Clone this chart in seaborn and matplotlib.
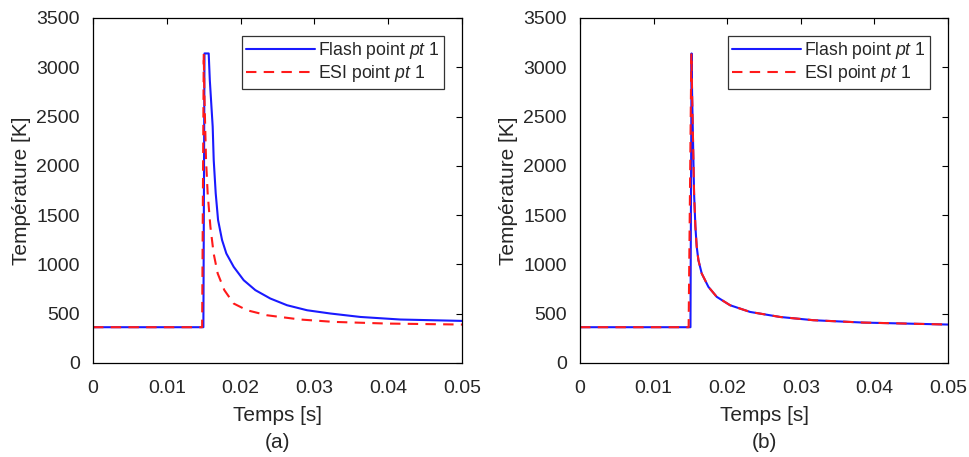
import numpy as np
import pandas as pd
import matplotlib
matplotlib.use('Agg')
import matplotlib.pyplot as plt
import seaborn as sns

# ================================================================
# values

# panel (a)
tFlashA = [0, 0.01495, 0.01510, 0.01567, 0.01582, 0.01621, 0.01635, 0.01662,
           0.01694, 0.01748, 0.01806, 0.01906, 0.02041, 0.02199, 0.02402, 0.02628,
           0.02900, 0.03215, 0.03622, 0.04164, 0.05]
TFlashA = [363, 363, 3140, 3140, 2870, 2398, 2059, 1721,
           1450, 1247, 1111, 975, 840, 739, 654, 586,
           535, 502, 467, 441, 427]

tEsiA = [0, 0.01478, 0.01500, 0.01508, 0.01531, 0.01553, 0.01590, 0.01634, 0.01689,
         0.01779, 0.01906, 0.02087, 0.02358, 0.02809, 0.03260, 0.03984, 0.05]
TEsiA = [363, 363, 3140, 2737, 2059, 1721, 1382, 1111, 908,
         739, 603, 535, 484, 441, 417, 400, 390]

# panel (b)
tFlashB = [0, 0.01500, 0.01515, 0.01522, 0.01531, 0.01540, 0.01549, 0.01567, 0.01585,
           0.01608, 0.01653, 0.01744, 0.01857, 0.02038, 0.02310, 0.02717, 0.03170,
           0.03849, 0.05]
TFlashB = [363, 363, 3140, 2737, 2398, 2059, 1721, 1382, 1179,
           1043, 908, 772, 671, 586, 518, 467, 434,
           410, 390]

tEsiB = [0, 0.01475, 0.01512, 0.01522, 0.01531, 0.01540, 0.01549, 0.01567, 0.01585,
         0.01608, 0.01653, 0.01744, 0.01857, 0.02038, 0.02310, 0.02717, 0.03170,
         0.03849, 0.05]
TEsiB = [363, 363, 3140, 2737, 2398, 2059, 1721, 1382, 1179,
         1043, 908, 772, 671, 586, 518, 467, 434,
         410, 390]

xTicks = [0, 0.01, 0.02, 0.03, 0.04, 0.05]
xTickLabels = ['0', '0.01', '0.02', '0.03', '0.04', '0.05']
yTicks = [0, 500, 1000, 1500, 2000, 2500, 3000, 3500]
panelLabels = ['(a)', '(b)']

# ================================================================

sns.set_style('white')
plt.rcParams['font.family'] = ['Liberation Sans', 'DejaVu Sans']
plt.rcParams['mathtext.fontset'] = 'custom'
plt.rcParams['mathtext.it'] = 'Liberation Sans:italic'
plt.rcParams['mathtext.rm'] = 'Liberation Sans'

textColor = '#262626'
esiDashes = (5, 3.5)

fig = plt.figure(figsize=(9.7, 4.57), dpi=100)
ax0 = fig.add_axes([0.0959, 0.2057, 0.3805, 0.755])
ax1 = fig.add_axes([0.598, 0.2057, 0.3794, 0.755])

panels = [(ax0, tFlashA, TFlashA, tEsiA, TEsiA),
          (ax1, tFlashB, TFlashB, tEsiB, TEsiB)]

for i, (ax, tF, TF, tE, TE) in enumerate(panels):
    flashDF = pd.DataFrame({'t': tF, 'T': TF})
    esiDF = pd.DataFrame({'t': tE, 'T': TE})
    sns.lineplot(data=flashDF, x='t', y='T', ax=ax, color=(0.1, 0.1, 1.0), lw=1.5,
                 estimator=None, sort=False, label='Flash point $\\mathit{pt}$ 1')
    sns.lineplot(data=esiDF, x='t', y='T', ax=ax, color=(1.0, 0.1, 0.1), lw=1.5,
                 estimator=None, sort=False, label='ESI point $\\mathit{pt}$ 1')
    ax.lines[1].set_dashes(esiDashes)

    ax.set_xlim(0, 0.05)
    ax.set_ylim(0, 3500)
    ax.set_xticks(xTicks)
    ax.set_xticklabels(xTickLabels)
    ax.set_yticks(yTicks)
    ax.tick_params(direction='in', length=4, width=0.8, top=True, right=True,
                   labelsize=14, colors='black', labelcolor=textColor)
    ax.tick_params(axis='x', pad=12.5)
    ax.tick_params(axis='y', pad=9.5)
    for sp in ax.spines.values():
        sp.set_visible(True)
        sp.set_color('black')
        sp.set_linewidth(0.9)
    ax.set_xlabel('Temps [s]', fontsize=15, color=textColor, labelpad=6)
    ax.set_ylabel('Température [K]', fontsize=15, color=textColor, labelpad=4)
    ax.text(0.5, -0.229, panelLabels[i], transform=ax.transAxes, ha='center', va='center',
            fontsize=15, color=textColor)

    leg = ax.legend(loc='upper right', fontsize=12.7, handlelength=3.9, handletextpad=0.2,
                    borderpad=0.25, labelspacing=0.12, borderaxespad=1.0, fancybox=False,
                    framealpha=1)
    leg.get_frame().set_edgecolor('#333333')
    leg.get_frame().set_linewidth(0.9)
    leg.get_lines()[1].set_dashes(esiDashes)
    for txt in leg.get_texts():
        txt.set_color(textColor)

fig.savefig('out.png', dpi=100)
plt.close(fig)
